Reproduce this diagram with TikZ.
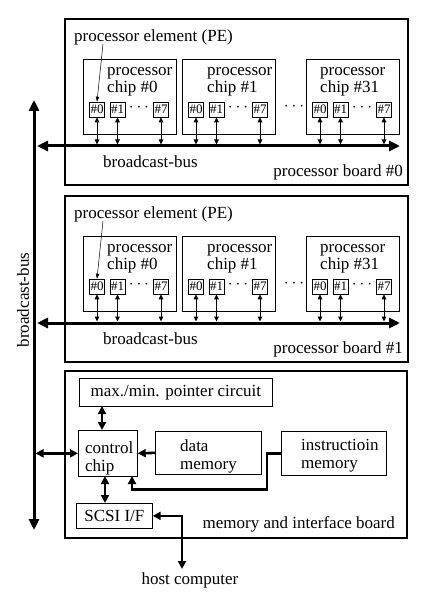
\documentclass[tikz,border=0pt]{standalone}
\usepackage{fontspec}
\setmainfont{Liberation Serif}
\usetikzlibrary{arrows.meta,calc}
\begin{document}
\begin{tikzpicture}[x=1pt,y=-1pt,font=\fontsize{17}{17}\selectfont,
  board/.style={draw,line width=1.6pt,anchor=north west,inner sep=0pt},
  chipbox/.style={draw,line width=0.6pt,anchor=north west,inner sep=0pt,minimum width=93pt,minimum height=75pt},
  pe/.style={draw,line width=0.6pt,minimum width=15pt,minimum height=15pt,inner sep=0pt,font=\fontsize{13}{13}\selectfont},
  membox/.style={draw,line width=0.7pt,anchor=north west,inner sep=0pt},
  lbl/.style={inner sep=0pt},
  dotsn/.style={inner sep=0pt,text height=2pt,text depth=0pt},
  bus/.style={line width=3pt,{Triangle[length=11pt,width=10pt]}-{Triangle[length=11pt,width=10pt]}},
  pearrow/.style={line width=1pt,{Triangle[length=5pt,width=4.5pt]}-{Triangle[length=5pt,width=4.5pt]}},
  leader/.style={line width=0.5pt,-{Triangle[length=5pt,width=3.5pt]}},
  link/.style={line width=2.6pt,-{Triangle[length=8pt,width=8pt]}},
  dlink/.style={line width=2.6pt,{Triangle[length=8pt,width=8pt]}-{Triangle[length=8pt,width=8pt]}}
]
\useasboundingbox (0,0) rectangle (425,604);

% vertical broadcast bus
\coordinate (vt) at (34,100);
\coordinate (vb) at (34,530);
\draw[bus] (vt) -- (vb);
\node[lbl,rotate=90] (vlabel) at (23,300) {broadcast-bus};

% processor boards
\foreach \o/\b in {0/0,177/1}{
  \node[board,minimum width=343pt,minimum height=166pt] (board\b) at (64,18+\o) {};
  \coordinate (busL\b) at (37,146+\o);
  \coordinate (busR\b) at (400,146+\o);
  \draw[bus] (busL\b) -- (busR\b);
  \foreach \cx/\cn/\lx in {83/0/107,182/1/207,306/31/320}{
    \node[chipbox] (chip\b-\cn) at (\cx,59+\o) {};
    \node[lbl,anchor=west,align=left] (clab\b-\cn) at (\lx,81.5+\o) {processor\\chip \#\cn};
    \node[pe] (pe\b-\cn-0) at (\cx+14,109.5+\o) {\#0};
    \node[pe] (pe\b-\cn-1) at (\cx+34.5,109.5+\o) {\#1};
    \node[pe] (pe\b-\cn-7) at (\cx+78,109.5+\o) {\#7};
    \node[dotsn] (dots\b-\cn) at (\cx+56,110.5+\o) {$\cdots$};
    \foreach \k in {0,1,7}{
      \draw[pearrow,shorten >=1.5pt] (pe\b-\cn-\k.south) -- (pe\b-\cn-\k.south |- busL\b);
    }
  }
  \node[dotsn] (cdots\b) at (294,109.5+\o) {$\cdots$};
  \node[lbl,anchor=west] (pelab\b) at (74,37+\o) {processor element (PE)};
  \coordinate (lead\b) at (103,44+\o);
  \draw[leader] (lead\b) -- (pe\b-0-0.north);
  \node[lbl,anchor=west] (bblab\b) at (103,162+\o) {broadcast-bus};
  \node[lbl,anchor=east] (pblab\b) at (403,172+\o) {processor board \#\b};
}

% memory and interface board
\node[board,minimum width=342pt,minimum height=167pt] (board2) at (64,370) {};
\node[membox,minimum width=193pt,minimum height=28pt] (ptr) at (79,378) {max./min. pointer circuit};
\node[membox,minimum width=59pt,minimum height=46pt] (ctrl) at (78,430) {};
\node[lbl,anchor=west,align=left,font=\fontsize{17}{18}\selectfont] (ctrllab) at (85,458) {control\\chip};
\node[membox,minimum width=106pt,minimum height=43pt] (data) at (155,431) {};
\node[lbl,anchor=west,align=left,font=\fontsize{17}{18}\selectfont] (datalab) at (180,456) {data\\memory};
\node[membox,minimum width=105pt,minimum height=44pt] (instr) at (281,431) {};
\node[lbl,anchor=west,align=left,font=\fontsize{17}{18}\selectfont] (instrlab) at (301,456) {instructioin\\memory};
\node[membox,minimum width=76pt,minimum height=25pt] (scsi) at (76,503) {SCSI I/F};
\node[lbl,anchor=east] (mblab) at (395,524) {memory and interface board};
\node[lbl] (host) at (190,580) {host computer};

\coordinate (pc1) at (102,406);
\coordinate (pc2) at (102,430);
\draw[dlink] (pc1) -- (pc2);
\draw[dlink,shorten >=1.5pt] (ctrl.west) -- (ctrl.west -| vt);
\draw[link] (data.west) -- (ctrl.east);
\coordinate (ic) at (132,476);
\draw[link] (instr.west) -- ++(-14,0) -- ++(0,36) -| (ic);
\coordinate (cs1) at (105,476);
\coordinate (cs2) at (105,503);
\draw[dlink] (cs1) -- (cs2);
\coordinate (hostin) at (182,569);
\draw[dlink] (scsi.east) -| (hostin);
\end{tikzpicture}
\end{document}
